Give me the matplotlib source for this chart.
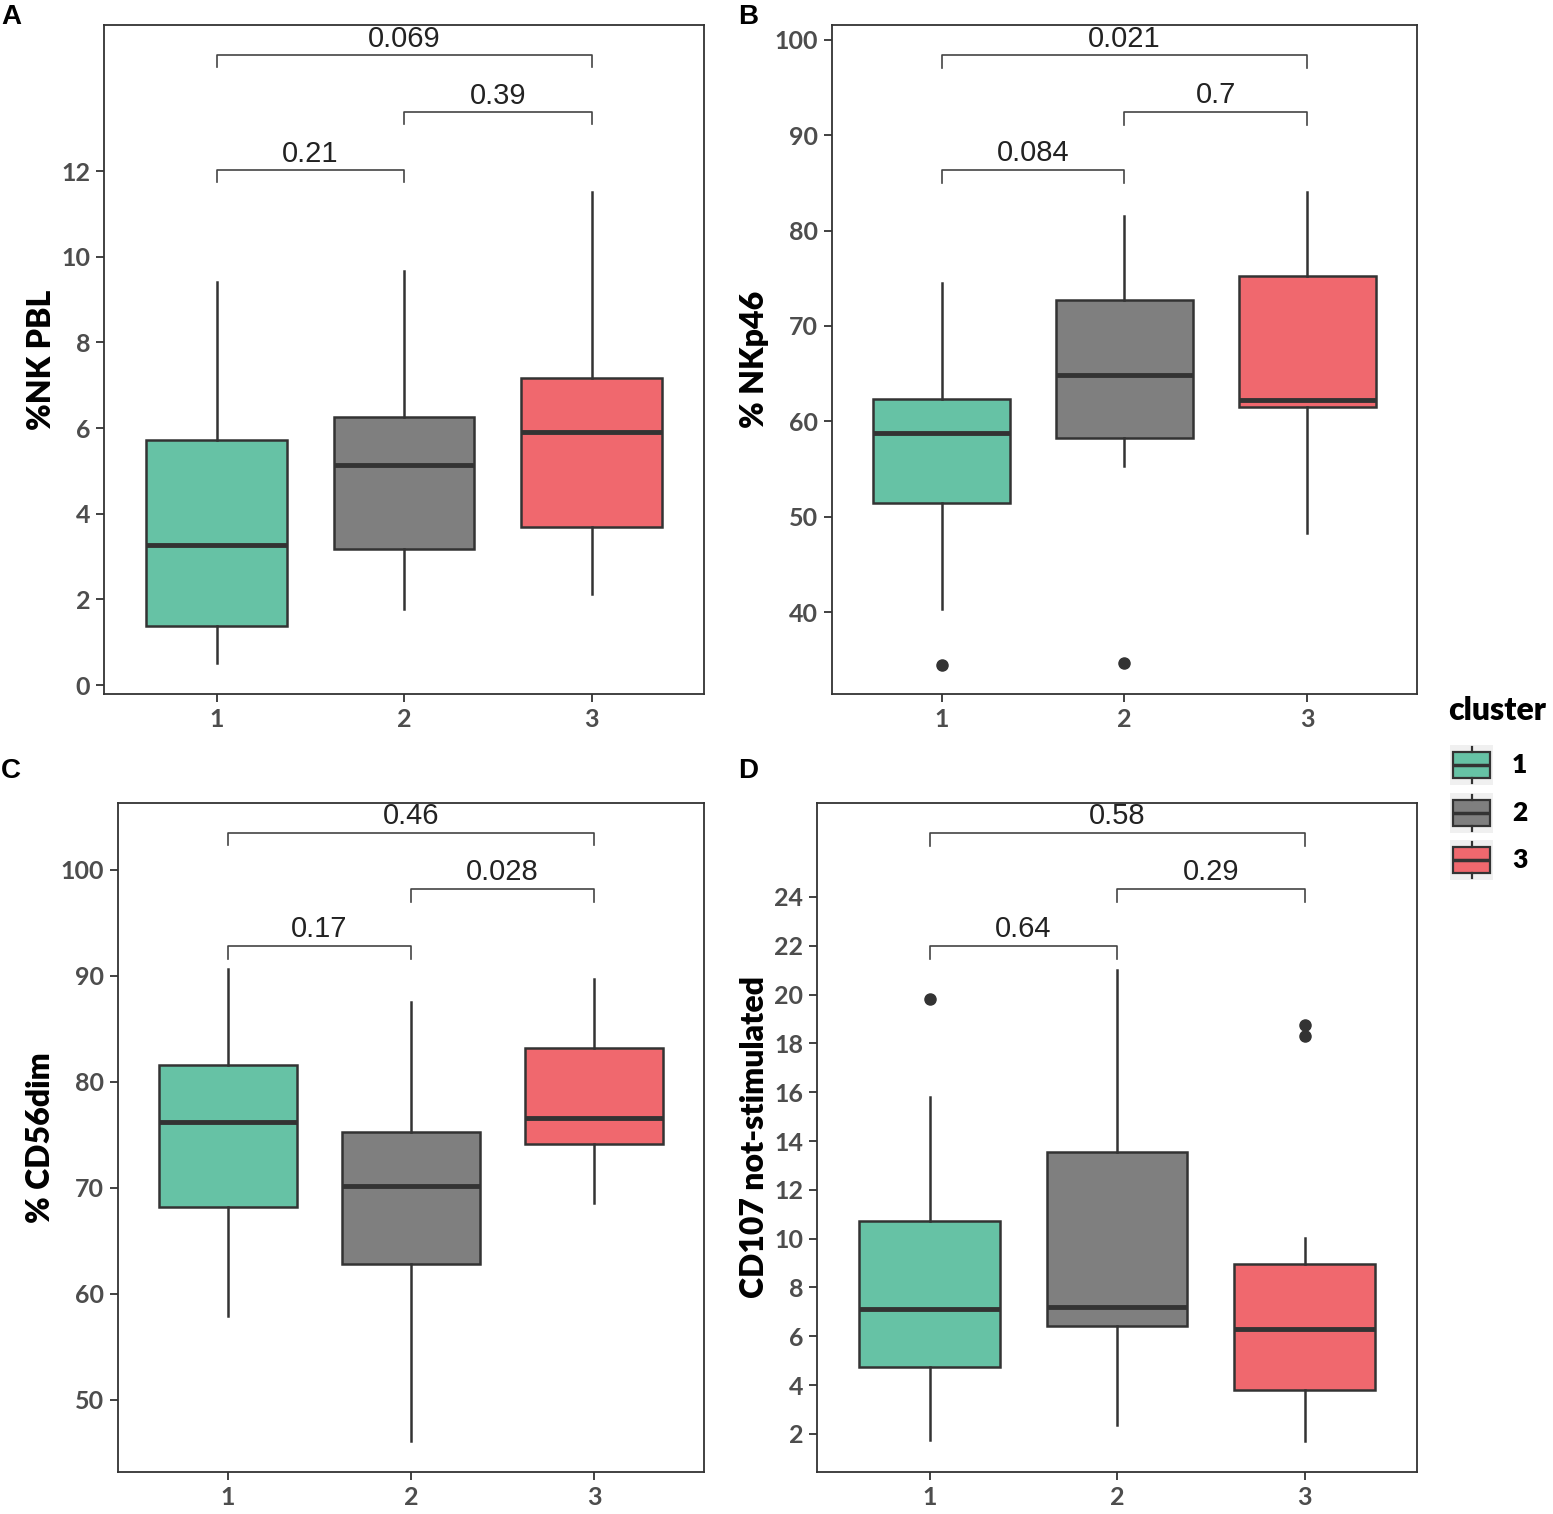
import matplotlib
matplotlib.use("Agg")
import matplotlib.pyplot as plt

# цвета кластеров
colors = ["#66C2A5", "#7F7F7F", "#F0686E"]
clusters = ["1", "2", "3"]

# панель A: %NK PBL
a_whislo = [0.51, 1.77, 2.12]
a_q1 = [1.38, 3.18, 3.69]
a_med = [3.27, 5.14, 5.91]
a_q3 = [5.72, 6.26, 7.17]
a_whishi = [9.41, 9.67, 11.51]
a_fliers = [[], [], []]
a_pvals = ["0.21", "0.39", "0.069"]
a_brackets = [12.02, 13.38, 14.71]

# панель B: % NKp46
b_whislo = [40.3, 55.3, 48.3]
b_q1 = [51.4, 58.3, 61.5]
b_med = [58.8, 64.9, 62.2]
b_q3 = [62.3, 72.7, 75.2]
b_whishi = [74.5, 81.5, 84.1]
b_fliers = [[34.4], [34.6], []]
b_pvals = ["0.084", "0.7", "0.021"]
b_brackets = [86.4, 92.45, 98.4]

# панель C: % CD56dim
c_whislo = [57.9, 46.1, 68.6]
c_q1 = [68.2, 62.8, 74.1]
c_med = [76.2, 70.2, 76.6]
c_q3 = [81.6, 75.3, 83.2]
c_whishi = [90.6, 87.5, 89.7]
c_fliers = [[], [], []]
c_pvals = ["0.17", "0.028", "0.46"]
c_brackets = [92.83, 98.2, 103.5]

# панель D: CD107 not-stimulated
d_whislo = [1.75, 2.37, 1.71]
d_q1 = [4.74, 6.42, 3.80]
d_med = [7.12, 7.2, 6.3]
d_q3 = [10.73, 13.55, 8.96]
d_whishi = [15.8, 21.0, 10.03]
d_fliers = [[19.82], [], [18.76, 18.3]]
d_pvals = ["0.64", "0.29", "0.58"]
d_brackets = [21.99, 24.33, 26.62]

W, H = 1553, 1514
fig = plt.figure(figsize=(W / 100, H / 100), dpi=100)

TICK_FONT = dict(family="Lato", weight="bold", size=18, color="#4D4D4D")
LINE_COL = "#333333"


def px_axes(l, t, r, b):
    return fig.add_axes([l / W, 1 - b / H, (r - l) / W, (b - t) / H])


def panel(ax, whislo, q1, med, q3, whishi, fliers, pvals, brackets, tip,
          ylim, yticks, ylabel):
    stats = []
    for i in range(3):
        stats.append(dict(whislo=whislo[i], q1=q1[i], med=med[i], q3=q3[i],
                          whishi=whishi[i], fliers=fliers[i], label=clusters[i]))
    bp = ax.bxp(stats, positions=[1, 2, 3], widths=0.75, patch_artist=True,
                showcaps=False,
                boxprops=dict(linewidth=1.8, edgecolor=LINE_COL),
                medianprops=dict(linewidth=3.5, color=LINE_COL),
                whiskerprops=dict(linewidth=1.8, color=LINE_COL),
                flierprops=dict(marker="o", markersize=8,
                                markerfacecolor=LINE_COL, markeredgecolor=LINE_COL))
    for patch, c in zip(bp["boxes"], colors):
        patch.set_facecolor(c)
    ax.set_xlim(0.4, 3.6)
    ax.set_ylim(*ylim)
    ax.set_yticks(yticks)
    for sp in ax.spines.values():
        sp.set_linewidth(1.3)
        sp.set_color(LINE_COL)
    ax.tick_params(length=6, width=1.3, color=LINE_COL, pad=4)
    for lab in ax.get_xticklabels() + ax.get_yticklabels():
        lab.set(**TICK_FONT)
    ax.set_ylabel(ylabel, family="Lato", weight="heavy", size=23, color="black")

    # скобки сравнения
    pairs = [(1, 2), (2, 3), (1, 3)]
    for (x1, x2), y, p in zip(pairs, brackets, pvals):
        ax.plot([x1, x1, x2, x2], [y - tip, y, y, y - tip], color="#444444",
                linewidth=1.2)
        ax.text((x1 + x2) / 2, y + tip * 0.2, p, ha="center", va="bottom",
                family="Liberation Sans", size=21, color="#222222")


ax_a = px_axes(104, 25, 704, 694)
panel(ax_a, a_whislo, a_q1, a_med, a_q3, a_whishi, a_fliers, a_pvals, a_brackets,
      0.28, (-0.21, 15.41), range(0, 13, 2), "%NK PBL")

ax_b = px_axes(832, 25, 1417, 694)
panel(ax_b, b_whislo, b_q1, b_med, b_q3, b_whishi, b_fliers, b_pvals, b_brackets,
      1.35, (31.4, 101.57), range(40, 101, 10), "% NKp46")

ax_c = px_axes(118, 803, 704, 1472)
panel(ax_c, c_whislo, c_q1, c_med, c_q3, c_whishi, c_fliers, c_pvals, c_brackets,
      1.2, (43.2, 106.3), range(50, 101, 10), "% CD56dim")

ax_d = px_axes(817, 803, 1417, 1472)
panel(ax_d, d_whislo, d_q1, d_med, d_q3, d_whishi, d_fliers, d_pvals, d_brackets,
      0.52, (0.44, 27.85), range(2, 25, 2), "CD107 not-stimulated")

for letter, x, y in [("A", 1, 17), ("B", 738, 17), ("C", 1, 771), ("D", 738, 771)]:
    fig.text(x / W, 1 - y / H, letter, family="Liberation Sans", weight="bold",
             size=20, va="center", ha="left")

# легенда
fig.text(1448 / W, 1 - 710 / H, "cluster", family="Lato", weight="heavy",
         size=23, va="center", ha="left")
key_tops = [745, 793, 840]
for i, t in enumerate(key_tops):
    kax = px_axes(1450, t, 1493, t + 40)
    kax.set_facecolor("#F0F0F0")
    st = [dict(whislo=0.0, q1=0.15, med=0.5, q3=0.85, whishi=1.0, fliers=[])]
    kb = kax.bxp(st, positions=[0.5], widths=0.88, patch_artist=True,
                 showcaps=False,
                 boxprops=dict(linewidth=1.6, edgecolor=LINE_COL),
                 medianprops=dict(linewidth=2.5, color=LINE_COL),
                 whiskerprops=dict(linewidth=1.6, color=LINE_COL))
    kb["boxes"][0].set_facecolor(colors[i])
    kax.set_xlim(0, 1)
    kax.set_ylim(-0.05, 1.05)
    kax.set_xticks([])
    kax.set_yticks([])
    for sp in kax.spines.values():
        sp.set_visible(False)
    fig.text(1512 / W, 1 - (t + 20) / H, clusters[i], family="Lato",
             weight="heavy", size=19, va="center", ha="left")

fig.savefig("out.png", dpi=100)
